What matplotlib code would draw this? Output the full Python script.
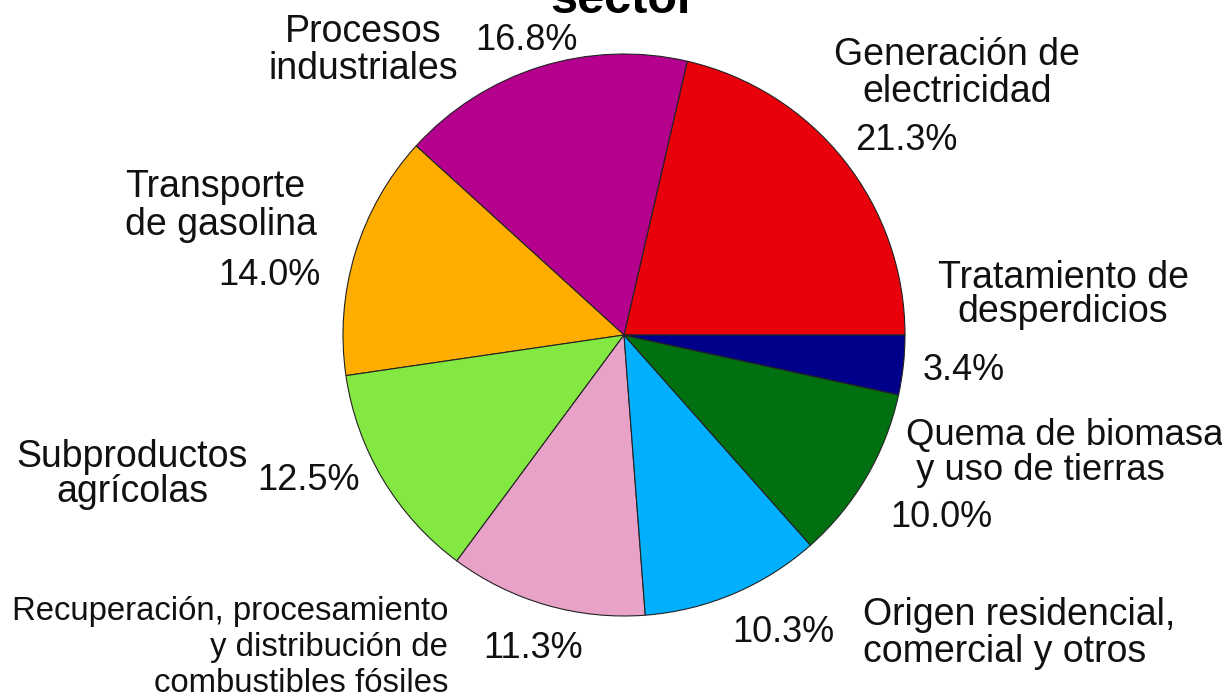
import matplotlib
matplotlib.use("Agg")
import matplotlib.pyplot as plt

# ---- data ----
sectors = [
    "Generación de electricidad",
    "Procesos industriales",
    "Transporte de gasolina",
    "Subproductos agrícolas",
    "Recuperación, procesamiento y distribución de combustibles fósiles",
    "Origen residencial, comercial y otros",
    "Quema de biomasa y uso de tierras",
    "Tratamiento de desperdicios",
]
label_lines = [
    ["Generación de", "electricidad"],
    ["Procesos", "industriales"],
    ["Transporte", "de gasolina"],
    ["Subproductos", "agrícolas"],
    ["Recuperación, procesamiento", "y distribución de", "combustibles fósiles"],
    ["Origen residencial,", "comercial y otros"],
    ["Quema de biomasa", " y uso de tierras"],
    ["Tratamiento de", "desperdicios"],
]
shares = [21.3, 16.8, 14.0, 12.5, 11.3, 10.3, 10.0, 3.4]
colors = ["#E8000B", "#B4008C", "#FFAE00", "#84E842",
          "#E8A2C8", "#00B0FF", "#007010", "#00008B"]
title = "sector"

# ---- layout (pixel coordinates, y measured from top) ----
W, H = 1222, 698
center_px = (624, 335)
radius_px = 281
# (x, first baseline y, line step, ha, fontsize)
label_pos = [
    (957, 65, 37, "center", 27),
    (363, 42, 37, "center", 27),
    (125, 197, 38, "left", 27),
    (132, 467, 35, "center", 27),
    (448, 620, 36, "right", 23.7),
    (863, 625, 37, "left", 27),
    (906, 445, 35, "left", 26.2),
    (1063, 288, 34, "center", 27),
]
# (x left, baseline y)
pct_pos = [
    (855, 150), (475, 50), (218, 285), (257, 490),
    (483, 658), (732, 642), (890, 527), (923, 380),
]

plt.rcParams["font.family"] = ["Liberation Sans", "DejaVu Sans"]
fig = plt.figure(figsize=(W / 100, H / 100), dpi=100)
ax = fig.add_axes([0, 0, 1, 1])
ax.set_xlim(0, W)
ax.set_ylim(0, H)
ax.set_aspect("equal")
ax.axis("off")

ax.pie(shares, colors=colors, startangle=0, counterclock=True,
       center=(center_px[0], H - center_px[1]), radius=radius_px,
       wedgeprops=dict(edgecolor="#222222", linewidth=0.8))
ax.set_xlim(0, W)
ax.set_ylim(0, H)

for lines, (x, y0, step, ha, fs) in zip(label_lines, label_pos):
    for i, ln in enumerate(lines):
        ax.text(x, H - (y0 + i * step), ln, ha=ha, va="baseline",
                fontsize=fs, color="#111111")

for val, (x, y) in zip(shares, pct_pos):
    ax.text(x, H - y, f"{val:.1f}%", ha="left", va="baseline",
            fontsize=26, color="#111111")

fig.text(623 / W, 1 - 13 / H, title, ha="center", va="baseline",
         fontsize=35, fontweight="bold", color="#000000")

fig.savefig("out.png", dpi=100)
